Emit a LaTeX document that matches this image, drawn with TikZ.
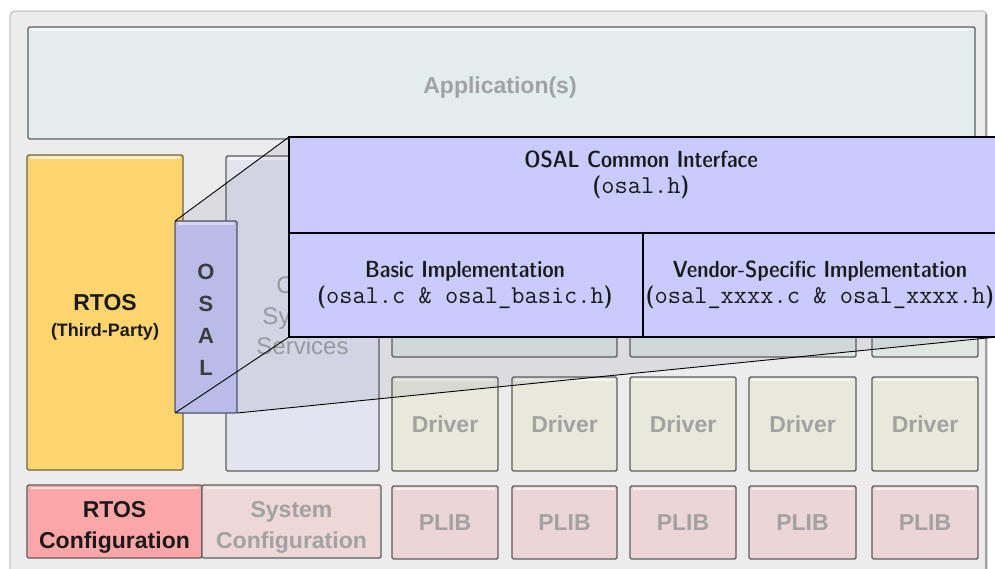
\documentclass[tikz,border=0pt]{standalone}
\usepackage{fontspec}
\newfontfamily\arial{Liberation Sans}
\usetikzlibrary{calc}

\definecolor{paper}{HTML}{FFFFFF}
\definecolor{framefill}{HTML}{ECECEC}
\definecolor{frameline}{HTML}{C6C6C6}
\definecolor{boxline}{HTML}{5E5E5E}
\definecolor{appfill}{HTML}{E4EDED}
\definecolor{rtosfill}{HTML}{FDD56C}
\definecolor{rtosline}{HTML}{6E6448}
\definecolor{corefill}{HTML}{E3E4EF}
\definecolor{midfill}{HTML}{DFE7E3}
\definecolor{drvfill}{HTML}{E8E9DA}
\definecolor{plibfill}{HTML}{EBD5D6}
\definecolor{rcfgfill}{HTML}{FDA6A7}
\definecolor{scfgfill}{HTML}{EDD7D7}
\definecolor{osalfill}{HTML}{C6C9F2}
\definecolor{osalline}{HTML}{50536A}
\definecolor{calloutfill}{HTML}{C9CAFD}
\definecolor{fadetext}{HTML}{A2A2A2}
\definecolor{darktext}{HTML}{1A1A1A}
\definecolor{wedgetint}{HTML}{3C3C70}

% place a named box given its corners: style, name, x1, y1, x2, y2, text
\newcommand\placebox[7]{%
  \node[#1, minimum width={(#5-#3)*1pt}, minimum height={(#6-#4)*1pt}]
    (#2) at ({(#3+#5)/2},{(#4+#6)/2}) {#7};}

\begin{document}
\begin{tikzpicture}[x=1pt,y=-1pt,
  box/.style={draw=boxline, line width=1.4pt, inner sep=0pt, outer sep=0pt,
    rounded corners=1.5pt, align=center},
  bevel/.style={path picture={
    \draw[white,opacity=.6,line width=2.2pt]
      ([xshift=3pt,yshift=-2.6pt]path picture bounding box.north west) --
      ([xshift=-3pt,yshift=-2.6pt]path picture bounding box.north east);}},
  lbl/.style={inner sep=0pt, align=center},
  faded/.style={text=fadetext, font=\arial\bfseries\fontsize{23}{30}\selectfont},
  strong/.style={text=darktext, font=\arial\bfseries\fontsize{23}{30}\selectfont},
  panel/.style={draw=black, line width=1.1pt, fill=calloutfill, inner sep=0pt,
    outer sep=0pt, align=center, text=darktext},
  paneltext/.style={align=center, text=darktext, inner sep=0pt,
    font=\sffamily\fontseries{sbc}\fontsize{23.3}{26}\selectfont},
  edge/.style={draw=black, line width=0.9pt},
  wedge/.style={fill=wedgetint, fill opacity=0.09},
]
\useasboundingbox (0,0) rectangle (995,569);
\clip (0,0) rectangle (995,569);
\fill[paper] (0,0) rectangle (995,569);

% outer frame
\placebox{draw=frameline, fill=framefill, line width=1.4pt, rounded corners=5pt, inner sep=0pt, outer sep=0pt}{frame}{10}{11}{987}{620}{}
\draw[frameline!80!black, line width=2pt] (frame.north east) ++(-1.5,3) -- ++(0,630);

% application layer
\placebox{box, fill=appfill, bevel}{app}{28}{27}{975}{139}{}
\node[lbl, faded] (applbl) at (500,87.5) {Application(s)};

% RTOS column
\placebox{box, draw=rtosline, fill=rtosfill, bevel}{rtos}{27}{155}{183}{470}{}
\node[lbl, strong] (rtoslbl) at (105,317.5)
  {RTOS\\[-4pt]{\fontsize{18}{20}\selectfont(Third-Party)}};

% core system services
\placebox{box, fill=corefill, bevel}{core}{226}{156}{379}{471}{}
\node[lbl, faded, font=\arial\fontsize{24}{30.5}\selectfont] (corelbl) at (302.5,316)
  {Core\\System\\Services};

% middle row (behind the call-out)
\placebox{box, fill=midfill, bevel}{mida}{392}{156}{617}{357}{}
\placebox{box, fill=midfill, bevel}{midb}{630}{156}{856}{357}{}
\placebox{box, fill=midfill, bevel}{midc}{872}{156}{978}{357}{}

% drivers
\placebox{box, fill=drvfill, bevel, faded}{drva}{392}{377}{498}{471}{Driver}
\placebox{box, fill=drvfill, bevel, faded}{drvb}{512}{377}{617}{471}{Driver}
\placebox{box, fill=drvfill, bevel, faded}{drvc}{630}{377}{736}{471}{Driver}
\placebox{box, fill=drvfill, bevel, faded}{drvd}{749}{377}{856}{471}{Driver}
\placebox{box, fill=drvfill, bevel, faded}{drve}{872}{377}{978}{471}{Driver}

% peripheral libraries
\placebox{box, fill=plibfill, bevel, faded}{plia}{392}{486}{498}{559}{PLIB}
\placebox{box, fill=plibfill, bevel, faded}{plib}{512}{486}{617}{559}{PLIB}
\placebox{box, fill=plibfill, bevel, faded}{plic}{630}{486}{736}{559}{PLIB}
\placebox{box, fill=plibfill, bevel, faded}{plid}{749}{486}{856}{559}{PLIB}
\placebox{box, fill=plibfill, bevel, faded}{plie}{872}{486}{978}{559}{PLIB}

% configuration row
\placebox{box, fill=rcfgfill, bevel}{rcfg}{27}{485}{202}{558}{}
\placebox{box, fill=scfgfill, bevel}{scfg}{202}{485}{381}{558}{}
\node[lbl, strong, font=\arial\bfseries\fontsize{23}{31}\selectfont] (rcfglbl) at (114.5,527)
  {RTOS\\Configuration};
\node[lbl, faded, font=\arial\bfseries\fontsize{23}{31}\selectfont] (scfglbl) at (291.5,527)
  {System\\Configuration};

% OSAL pillar
\placebox{box, draw=osalline, fill=osalfill, bevel}{osal}{175}{221}{237}{413}{}
\node[lbl, text=darktext!85!white, font=\arial\bfseries\fontsize{22}{32}\selectfont]
  (osallbl) at (206,320) {O\\S\\A\\L};

% call-out panels (placed first so the projection can refer to them)
\placebox{panel}{ci}{289}{137}{997}{233}{}
\placebox{panel}{bi}{289}{233}{643}{337}{}
\placebox{panel}{vi}{643}{233}{997}{337}{}

% projection from the pillar to the call-out
\fill[wedge] (osal.north west) -- (ci.north west) -- (ci.north east) --
  (vi.south east) -- (osal.south east) -- (osal.south west) -- cycle;
\draw[edge] (osal.north west) -- (ci.north west);
\draw[edge] (osal.south west) -- (bi.south west);
\draw[edge] (osal.south east) -- (vi.south east);

% call-out panels on top
\placebox{panel}{ci}{289}{137}{997}{233}{}
\placebox{panel}{bi}{289}{233}{643}{337}{}
\placebox{panel}{vi}{643}{233}{997}{337}{}

\node[paneltext] (citext) at (641,175)
  {OSAL Common Interface\\({\ttfamily\fontsize{25.7}{26}\selectfont osal.h})};
\node[paneltext] (bitext) at (465,285)
  {Basic Implementation\\({\ttfamily\fontsize{25.7}{26}\selectfont osal.c \& osal\_basic.h})};
\node[paneltext] (vitext) at (820,285)
  {Vendor-Specific Implementation\\({\ttfamily\fontsize{25.7}{26}\selectfont osal\_xxxx.c \& osal\_xxxx.h})};
\end{tikzpicture}
\end{document}
